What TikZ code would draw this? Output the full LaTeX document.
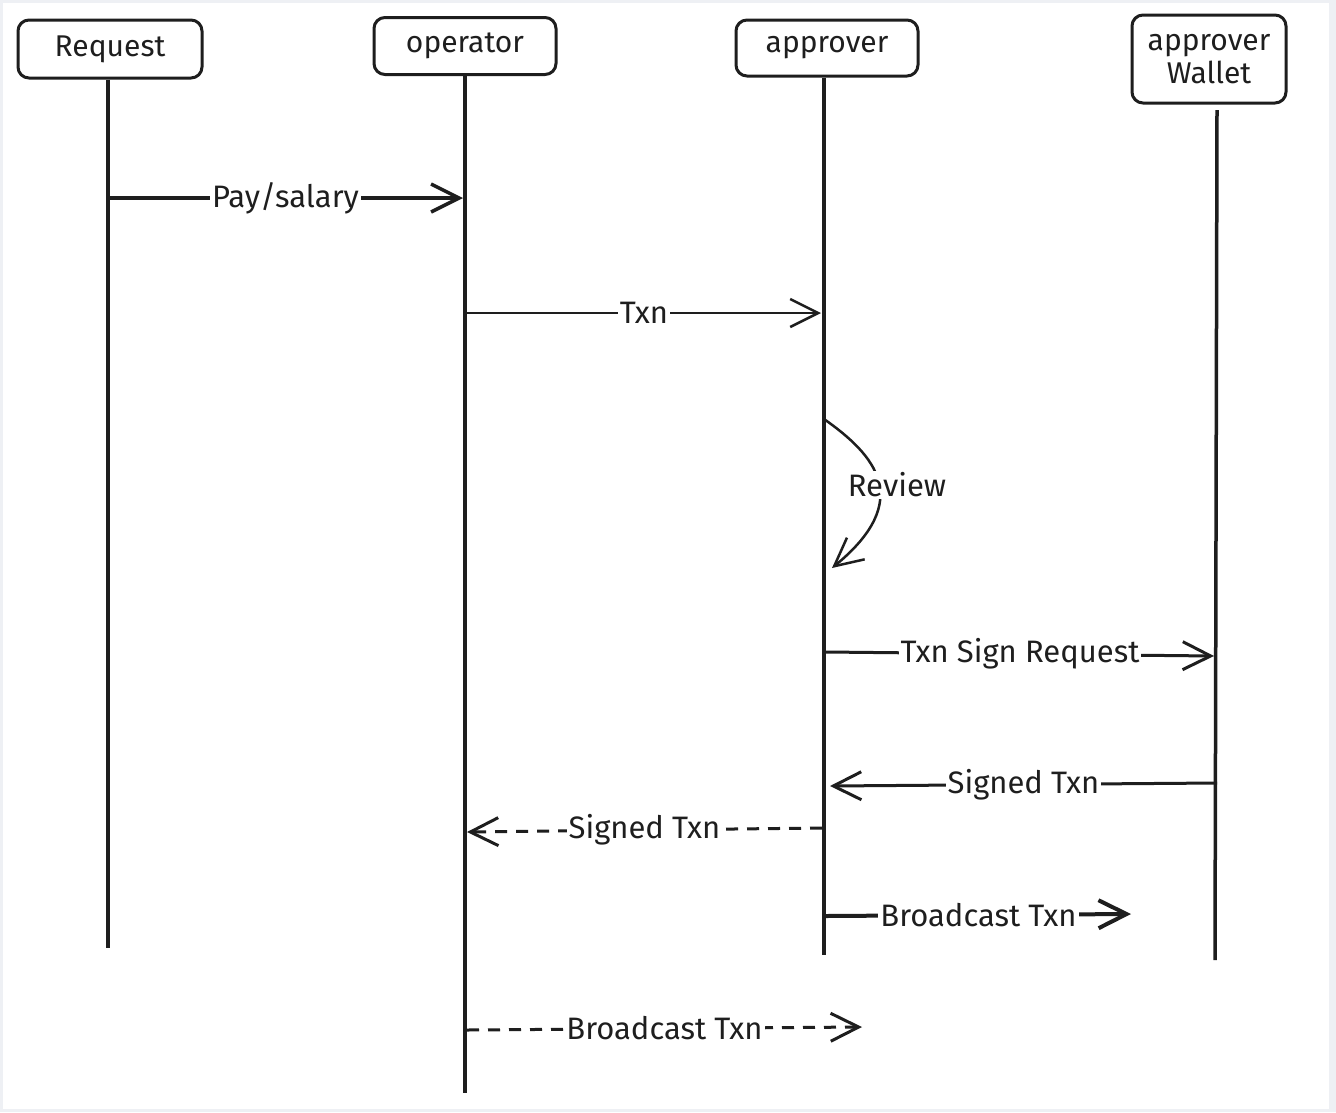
\documentclass[tikz,border=0pt]{standalone}
\usepackage{fontspec}
\setmainfont{Fira Sans}
\usetikzlibrary{arrows.meta}
\definecolor{ink}{HTML}{1E1E1E}
\definecolor{framegray}{RGB}{238,240,244}
\begin{document}
\begin{tikzpicture}[x=1pt,y=-1pt,
  actor/.style={draw=ink, line width=3pt, rounded corners=11pt, fill=white,
    text=ink, align=center, inner sep=0pt,
    font=\fontsize{30}{33}\selectfont},
  life/.style={draw=ink, line width=3.5pt},
  msg/.style={draw=ink, line width=3pt, -{Straight Barb[length=28pt,width=28pt]}},
  dashmsg/.style={msg, dash pattern=on 12pt off 9pt},
  lbl/.style={fill=white, inner sep=2pt, text=ink, font=\fontsize{31}{34}\selectfont},
]
% page frame
\fill[framegray] (0,0) rectangle (1336,1112);
\fill[white] (3,3) rectangle (1329,1109);
\useasboundingbox (0,0) rectangle (1336,1112);

% participants
\node[actor, minimum width=184pt, minimum height=58pt] (req) at (110,49) {Request};
\node[actor, minimum width=182pt, minimum height=57pt] (op)  at (465,46) {operator};
\node[actor, minimum width=182pt, minimum height=56pt] (ap)  at (827,48) {approver};
\node[actor, minimum width=154pt, minimum height=88pt] (wal) at (1209,59) {approver\\Wallet};

% lifelines
\coordinate (reqEnd) at (108,948);
\coordinate (opEnd)  at (465,1093);
\coordinate (apEnd)  at (824,955);
\coordinate (walTop) at (1217,110);
\coordinate (walEnd) at (1215,960);
\draw[life] (req.south -| reqEnd) -- (reqEnd);
\draw[life] (op.south -| opEnd) -- (opEnd);
\draw[life] (ap.south -| apEnd) -- (apEnd);
\draw[life] (walTop) -- (walEnd);

% messages
\coordinate (m1a) at (108,198);  \coordinate (m1b) at (463,198);
\draw[msg, line width=3.5pt] (m1a) -- node[lbl]{Pay/salary} (m1b);

\coordinate (m2a) at (467,313);  \coordinate (m2b) at (821,313);
\draw[msg, line width=2.5pt] (m2a) -- node[lbl]{Txn} (m2b);

% self message on the approver lifeline
\coordinate (m3a) at (824,419);  \coordinate (m3b) at (832,568);
\draw[msg, line width=2.5pt] (m3a) .. controls (875,455) and (915,500) .. (m3b);
\node[lbl] (rev) at (897,485) {Review};

\coordinate (m4a) at (826,652);  \coordinate (m4b) at (1214,656);
\draw[msg] (m4a) -- node[lbl]{Txn Sign Request} (m4b);

\coordinate (m5a) at (1217,783); \coordinate (m5b) at (830,786);
\draw[msg] (m5a) -- node[lbl]{Signed Txn} (m5b);

\coordinate (m6a) at (822,828);  \coordinate (m6b) at (467,832);
\draw[dashmsg] (m6a) -- node[lbl]{Signed Txn} (m6b);

\coordinate (m7a) at (826,916);  \coordinate (m7b) at (1131,914);
\draw[msg, line width=4pt] (m7a) -- node[lbl]{Broadcast Txn} (m7b);

\coordinate (m8a) at (467,1030); \coordinate (m8b) at (862,1027);
\draw[dashmsg] (m8a) -- node[lbl]{Broadcast Txn} (m8b);
\end{tikzpicture}
\end{document}
